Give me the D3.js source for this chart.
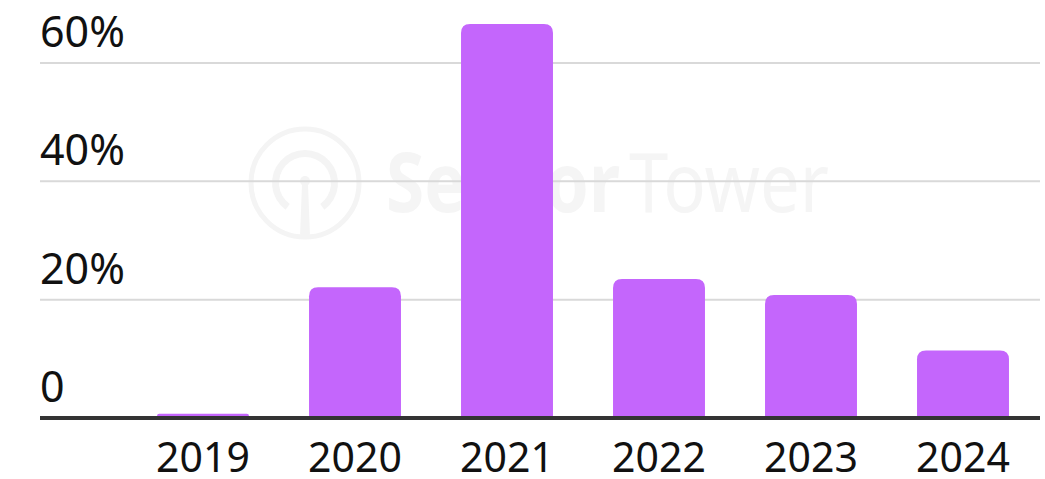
<!DOCTYPE html>
<html>
<head>
<meta charset="utf-8">
<script src="https://cdn.jsdelivr.net/npm/d3@7"></script>
<style>
  html, body { margin: 0; padding: 0; background: #ffffff; }
  svg { display: block; }
  text { font-family: "Noto Sans", "Open Sans", sans-serif; }
</style>
</head>
<body>
<svg id="chart" width="1045" height="479"></svg>
<script>
// Year-over-year growth by year (%)
const years = ["2019", "2020", "2021", "2022", "2023", "2024"];
const growth = [0.7, 22.1, 66.6, 23.5, 20.8, 11.4];
const yTicks = [0, 20, 40, 60];
const yTickLabels = ["0", "20%", "40%", "60%"];

const width = 1045, height = 479;
const left = 40, right = 1040;
const baseY = 418, topY = 63;
const barColor = "#c466fc";
const wmColor = "#f4f4f4";

const svg = d3.select("#chart");

const x = d3.scaleBand()
  .domain(years)
  .range([127, 1039])
  .paddingInner(0.395)
  .paddingOuter(0.1975);

const y = d3.scaleLinear()
  .domain([0, 60])
  .range([baseY, topY]);

// Watermark logo and wordmark
const wm = svg.append("g");
wm.append("circle").attr("cx", 305).attr("cy", 183).attr("r", 54)
  .attr("fill", "none").attr("stroke", wmColor).attr("stroke-width", 5);
wm.append("path")
  .attr("d", d3.arc()({ innerRadius: 26, outerRadius: 33, startAngle: Math.PI * 1.2, endAngle: Math.PI * 2.8 }))
  .attr("transform", "translate(305,183)")
  .attr("fill", wmColor);
wm.append("circle").attr("cx", 305).attr("cy", 181).attr("r", 5).attr("fill", wmColor);
wm.append("path").attr("d", "M302,184 L308,184 L310,237 L300,237 Z").attr("fill", wmColor);
const word = wm.append("text").attr("y", 212)
  .attr("font-size", 83).attr("fill", "#f5f5f5");
word.append("tspan").attr("x", 386).attr("font-weight", 700)
  .attr("textLength", 234).attr("lengthAdjust", "spacingAndGlyphs")
  .text("Sensor");
word.append("tspan").attr("x", 629).attr("font-weight", 400)
  .attr("textLength", 200).attr("lengthAdjust", "spacingAndGlyphs")
  .text("Tower");

// Gridlines (non-zero ticks)
svg.append("g").selectAll("line")
  .data(yTicks.filter(d => d !== 0))
  .join("line")
  .attr("x1", left).attr("x2", right)
  .attr("y1", d => y(d)).attr("y2", d => y(d))
  .attr("stroke", "#d9d9d9").attr("stroke-width", 2);

// Y tick labels
svg.append("g").selectAll("text")
  .data(yTicks)
  .join("text")
  .attr("x", left)
  .attr("y", d => y(d) - 16)
  .attr("font-size", 43)
  .attr("fill", "#111")
  .text((d, i) => yTickLabels[i]);

// Bars with rounded top corners
function barPath(x0, w, yTop, yBot, r) {
  const h = yBot - yTop;
  const rr = Math.min(r, h, w / 2);
  return `M${x0},${yBot} L${x0},${yTop + rr} Q${x0},${yTop} ${x0 + rr},${yTop}` +
         ` L${x0 + w - rr},${yTop} Q${x0 + w},${yTop} ${x0 + w},${yTop + rr} L${x0 + w},${yBot} Z`;
}
svg.append("g").selectAll("path")
  .data(years.map((yr, i) => ({ yr, v: growth[i] })))
  .join("path")
  .attr("d", d => barPath(x(d.yr), x.bandwidth(), y(d.v), baseY - 2, 9))
  .attr("fill", barColor);

// Baseline
svg.append("line")
  .attr("x1", left).attr("x2", right)
  .attr("y1", baseY).attr("y2", baseY)
  .attr("stroke", "#333").attr("stroke-width", 4);

// X axis labels
svg.append("g").selectAll("text")
  .data(years)
  .join("text")
  .attr("x", d => x(d) + x.bandwidth() / 2)
  .attr("y", 472)
  .attr("text-anchor", "middle")
  .attr("font-size", 41)
  .attr("fill", "#111")
  .text(d => d);
</script>
</body>
</html>
